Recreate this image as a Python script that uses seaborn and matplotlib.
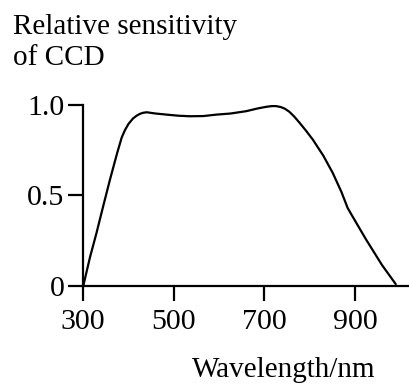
import matplotlib
matplotlib.use("Agg")
import matplotlib.pyplot as plt
import seaborn as sns
import pandas as pd

wavelength = [300, 315, 329, 344, 359, 375, 385, 392, 400, 410, 418, 425, 432, 440, 460, 484, 510, 535, 565, 594, 625, 660, 685, 704, 716, 726, 736, 745, 755, 766, 778, 792, 807, 830, 851, 870, 884, 905, 925, 960, 990]
sensitivity = [0.0, 0.16, 0.29, 0.44, 0.587, 0.735, 0.82, 0.86, 0.895, 0.925, 0.94, 0.95, 0.956, 0.959, 0.952, 0.946, 0.94, 0.937, 0.938, 0.946, 0.952, 0.965, 0.98, 0.989, 0.993, 0.993, 0.988, 0.979, 0.962, 0.935, 0.90, 0.857, 0.808, 0.72, 0.624, 0.52, 0.43, 0.34, 0.255, 0.115, 0.011]
xticks = [300, 500, 700, 900]
yticks = [0, 0.5, 1.0]
yticklabels = ["0", "0.5", "1.0"]

df = pd.DataFrame({"wavelength": wavelength, "sensitivity": sensitivity})

sns.set_theme(style="ticks")
plt.rcParams["font.family"] = ["Liberation Serif", "DejaVu Serif"]
plt.rcParams["text.color"] = "black"
plt.rcParams["xtick.color"] = "black"
plt.rcParams["ytick.color"] = "black"

fig = plt.figure(figsize=(4.1, 3.84), dpi=100)
ax = fig.add_axes([0.203, 0.255, 0.792, 0.472])

sns.lineplot(data=df, x="wavelength", y="sensitivity", ax=ax, color="black",
             linewidth=1.6, sort=False, estimator=None)
for ln in ax.lines:
    ln.set_clip_on(False)
    ln.set_solid_joinstyle("round")

ax.set_xlim(300, 1017)
ax.set_ylim(0, 1.0)
ax.set_xticks(xticks)
ax.set_xticklabels([str(t) for t in xticks])
ax.set_yticks(yticks)
ax.set_yticklabels(yticklabels)
ax.set_xlabel("")
ax.set_ylabel("")
for s in ["top", "right"]:
    ax.spines[s].set_visible(False)
for s in ["left", "bottom"]:
    ax.spines[s].set_linewidth(1.6)
    ax.spines[s].set_color("black")
ax.tick_params(axis="both", direction="out", length=10.5, width=1.6, color="black",
               labelsize=21.5, labelcolor="black")
ax.tick_params(axis="x", pad=6)
ax.tick_params(axis="y", pad=3)

fig.text(13 / 410, 1 - 34 / 384, "Relative sensitivity", fontsize=21, ha="left", va="baseline", color="black")
fig.text(13 / 410, 1 - 65 / 384, "of CCD", fontsize=21, ha="left", va="baseline", color="black")
fig.text(375 / 410, 1 - 377 / 384, "Wavelength/nm", fontsize=21, ha="right", va="baseline", color="black")

fig.savefig("out.png", dpi=100, facecolor="white")
